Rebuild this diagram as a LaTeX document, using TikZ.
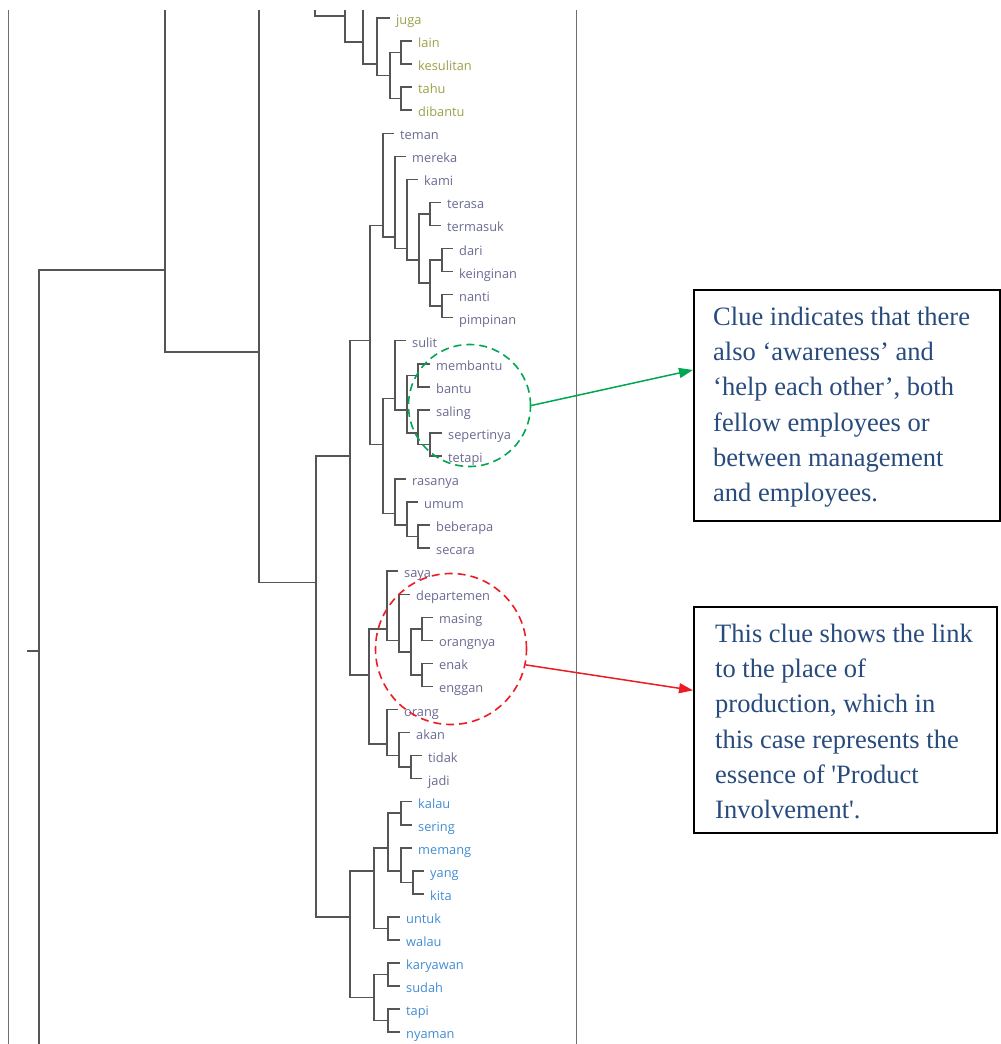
\documentclass[tikz,border=0pt]{standalone}
\usepackage{fontspec}
\setmainfont{Liberation Serif}
\newfontfamily\lblfont{Open Sans}
\usetikzlibrary{shapes.geometric,arrows.meta}
\definecolor{olivelbl}{RGB}{155,160,70}
\definecolor{greylbl}{RGB}{105,105,145}
\definecolor{bluelbl}{RGB}{65,140,210}
\definecolor{boxtext}{RGB}{40,75,125}
\definecolor{branch}{RGB}{85,85,85}
\definecolor{panelline}{RGB}{110,110,110}
\definecolor{clueGreen}{RGB}{0,166,81}
\definecolor{clueRed}{RGB}{235,28,36}
% vertical position of leaf row #1
\newcommand{\ry}[1]{18+23.05*#1}

\begin{document}
\begin{tikzpicture}[x=1pt,y=-1pt,
  br/.style={draw=branch, line width=1.5pt},
  panel/.style={draw=panelline, line width=1pt},
  lf/.style={anchor=west, inner xsep=6pt, inner ysep=0pt, text height=13pt,
    text depth=0pt, font=\lblfont\fontsize{12.8}{14}\selectfont},
  ol/.style={lf, text=olivelbl},
  gy/.style={lf, text=greylbl},
  bl/.style={lf, text=bluelbl},
  ring/.style={circle, draw, dash pattern=on 8pt off 5pt, line width=1.6pt, inner sep=0pt},
  notebox/.style={draw=black, line width=2pt, inner sep=0pt},
  notetext/.style={anchor=base west, text=boxtext, align=left, inner sep=0pt,
    font=\fontsize{26.5}{35.2}\selectfont},
  pointer/.style={-{Triangle[length=14pt,width=10pt]}, line width=1.5pt}
]
\useasboundingbox (0,0) rectangle (1001,1044);

% panel edges
\coordinate (pl1) at (8,10);   \coordinate (pl2) at (8,1044);
\coordinate (pr1) at (576,10); \coordinate (pr2) at (576,1044);
\draw[panel] (pl1) -- (pl2);
\draw[panel] (pr1) -- (pr2);

% ---------- leaves ----------
\node[ol] (juga)      at (390,{\ry{0}}) {juga};
\node[ol] (lain)      at (412,{\ry{1}}) {lain};
\node[ol] (kesulitan) at (412,{\ry{2}}) {kesulitan};
\node[ol] (tahu)      at (412,{\ry{3}}) {tahu};
\node[ol] (dibantu)   at (412,{\ry{4}}) {dibantu};

\node[gy] (teman)     at (394,{\ry{5}}) {teman};
\node[gy] (mereka)    at (406,{\ry{6}}) {mereka};
\node[gy] (kami)      at (418,{\ry{7}}) {kami};
\node[gy] (terasa)    at (441,{\ry{8}}) {terasa};
\node[gy] (termasuk)  at (441,{\ry{9}}) {termasuk};
\node[gy] (dari)      at (453,{\ry{10}}) {dari};
\node[gy] (keinginan) at (453,{\ry{11}}) {keinginan};
\node[gy] (nanti)     at (453,{\ry{12}}) {nanti};
\node[gy] (pimpinan)  at (453,{\ry{13}}) {pimpinan};
\node[gy] (sulit)     at (406,{\ry{14}}) {sulit};
\node[gy] (membantu)  at (430,{\ry{15}}) {membantu};
\node[gy] (bantu)     at (430,{\ry{16}}) {bantu};
\node[gy] (saling)    at (430,{\ry{17}}) {saling};
\node[gy] (sepertinya) at (442,{\ry{18}}) {sepertinya};
\node[gy] (tetapi)    at (442,{\ry{19}}) {tetapi};
\node[gy] (rasanya)   at (406,{\ry{20}}) {rasanya};
\node[gy] (umum)      at (418,{\ry{21}}) {umum};
\node[gy] (beberapa)  at (430,{\ry{22}}) {beberapa};
\node[gy] (secara)    at (430,{\ry{23}}) {secara};
\node[gy] (saya)      at (398,{\ry{24}}) {saya};
\node[gy] (departemen) at (410,{\ry{25}}) {departemen};
\node[gy] (masing)    at (433,{\ry{26}}) {masing};
\node[gy] (orangnya)  at (433,{\ry{27}}) {orangnya};
\node[gy] (enak)      at (433,{\ry{28}}) {enak};
\node[gy] (enggan)    at (433,{\ry{29}}) {enggan};
\node[gy] (orang)     at (398,{\ry{30}}) {orang};
\node[gy] (akan)      at (410,{\ry{31}}) {akan};
\node[gy] (tidak)     at (422,{\ry{32}}) {tidak};
\node[gy] (jadi)      at (422,{\ry{33}}) {jadi};

\node[bl] (kalau)     at (412,{\ry{34}}) {kalau};
\node[bl] (sering)    at (412,{\ry{35}}) {sering};
\node[bl] (memang)    at (412,{\ry{36}}) {memang};
\node[bl] (yang)      at (424,{\ry{37}}) {yang};
\node[bl] (kita)      at (424,{\ry{38}}) {kita};
\node[bl] (untuk)     at (400,{\ry{39}}) {untuk};
\node[bl] (walau)     at (400,{\ry{40}}) {walau};
\node[bl] (karyawan)  at (400,{\ry{41}}) {karyawan};
\node[bl] (sudah)     at (400,{\ry{42}}) {sudah};
\node[bl] (tapi)      at (400,{\ry{43}}) {tapi};
\node[bl] (nyaman)    at (400,{\ry{44}}) {nyaman};

% ---------- merge points ----------
\coordinate (lk)   at (401,{\ry{1.5}});
\coordinate (td)   at (401,{\ry{3.5}});
\coordinate (lktd) at (390,{\ry{2.5}});
\coordinate (jg)   at (377,{\ry{2}});
\coordinate (nA)   at (363,42);  \coordinate (nAtop) at (363,10);
\coordinate (nB)   at (345,16);  \coordinate (nBtop) at (345,10);
\coordinate (nCtop) at (315,10);

\coordinate (T)    at (383,{\ry{9}});
\coordinate (T2)   at (395,{\ry{9.5}});
\coordinate (T3)   at (407,{\ry{10}});
\coordinate (T4)   at (419,{\ry{10.5}});
\coordinate (tt)   at (430,{\ry{8.5}});
\coordinate (dknp) at (430,{\ry{11.5}});
\coordinate (dk)   at (442,{\ry{10.5}});
\coordinate (np)   at (442,{\ry{12.5}});

\coordinate (H)    at (383,{\ry{18.5}});
\coordinate (S)    at (395,{\ry{16.5}});
\coordinate (S2)   at (407,{\ry{17}});
\coordinate (mb)   at (418,{\ry{15.5}});
\coordinate (sal)  at (418,{\ry{18}});
\coordinate (st)   at (430,{\ry{18.5}});
\coordinate (R)    at (395,{\ry{21.5}});
\coordinate (R2)   at (407,{\ry{22}});
\coordinate (bs)   at (418,{\ry{22.5}});
\coordinate (G)    at (370,{\ry{14}});

\coordinate (K)    at (369,{\ry{28.5}});
\coordinate (sy)   at (387,{\ry{26.5}});
\coordinate (dp)   at (399,{\ry{27}});
\coordinate (me)   at (411,{\ry{27.5}});
\coordinate (mo)   at (422,{\ry{26.5}});
\coordinate (ee)   at (422,{\ry{28.5}});
\coordinate (orn)  at (387,{\ry{31.5}});
\coordinate (ak)   at (399,{\ry{32}});
\coordinate (tj)   at (411,{\ry{32.5}});
\coordinate (E)    at (350,{\ry{19}});

\coordinate (F)    at (350,{\ry{39}});
\coordinate (F1)   at (374,{\ry{37}});
\coordinate (F11)  at (388,{\ry{36}});
\coordinate (ks)   at (401,{\ry{34.5}});
\coordinate (my)   at (401,{\ry{37}});
\coordinate (yk)   at (413,{\ry{37.5}});
\coordinate (uw)   at (388,{\ry{39.5}});
\coordinate (F2)   at (374,{\ry{42.5}});
\coordinate (kas)  at (388,{\ry{41.5}});
\coordinate (tn)   at (388,{\ry{43.5}});

\coordinate (D)    at (316,{\ry{24.5}});
\coordinate (n259) at (259,352);  \coordinate (n259top) at (259,10);
\coordinate (n165) at (165,270);  \coordinate (n165top) at (165,10);
\coordinate (root) at (39,651);   \coordinate (rootbot) at (39,1044);
\coordinate (stub) at (27,651);

% ---------- branches ----------
\draw[br] (lk) |- (lain.west);   \draw[br] (lk) |- (kesulitan.west);
\draw[br] (td) |- (tahu.west);   \draw[br] (td) |- (dibantu.west);
\draw[br] (lktd) |- (lk);        \draw[br] (lktd) |- (td);
\draw[br] (jg) |- (juga.west);   \draw[br] (jg) |- (lktd);
\draw[br] (nA) -- (nAtop);       \draw[br] (nA) |- (jg);
\draw[br] (nB) -- (nBtop);       \draw[br] (nB) |- (nA);
\draw[br] (nCtop) |- (nB);

\draw[br] (T) |- (teman.west);   \draw[br] (T) |- (T2);
\draw[br] (T2) |- (mereka.west); \draw[br] (T2) |- (T3);
\draw[br] (T3) |- (kami.west);   \draw[br] (T3) |- (T4);
\draw[br] (T4) |- (tt);          \draw[br] (T4) |- (dknp);
\draw[br] (tt) |- (terasa.west); \draw[br] (tt) |- (termasuk.west);
\draw[br] (dknp) |- (dk);        \draw[br] (dknp) |- (np);
\draw[br] (dk) |- (dari.west);   \draw[br] (dk) |- (keinginan.west);
\draw[br] (np) |- (nanti.west);  \draw[br] (np) |- (pimpinan.west);

\draw[br] (H) |- (S);            \draw[br] (H) |- (R);
\draw[br] (S) |- (sulit.west);   \draw[br] (S) |- (S2);
\draw[br] (S2) |- (mb);          \draw[br] (S2) |- (sal);
\draw[br] (mb) |- (membantu.west); \draw[br] (mb) |- (bantu.west);
\draw[br] (sal) |- (saling.west);  \draw[br] (sal) |- (st);
\draw[br] (st) |- (sepertinya.west); \draw[br] (st) |- (tetapi.west);
\draw[br] (R) |- (rasanya.west); \draw[br] (R) |- (R2);
\draw[br] (R2) |- (umum.west);   \draw[br] (R2) |- (bs);
\draw[br] (bs) |- (beberapa.west); \draw[br] (bs) |- (secara.west);
\draw[br] (G) |- (T);            \draw[br] (G) |- (H);

\draw[br] (K) |- (sy);           \draw[br] (K) |- (orn);
\draw[br] (sy) |- (saya.west);   \draw[br] (sy) |- (dp);
\draw[br] (dp) |- (departemen.west); \draw[br] (dp) |- (me);
\draw[br] (me) |- (mo);          \draw[br] (me) |- (ee);
\draw[br] (mo) |- (masing.west); \draw[br] (mo) |- (orangnya.west);
\draw[br] (ee) |- (enak.west);   \draw[br] (ee) |- (enggan.west);
\draw[br] (orn) |- (orang.west); \draw[br] (orn) |- (ak);
\draw[br] (ak) |- (akan.west);   \draw[br] (ak) |- (tj);
\draw[br] (tj) |- (tidak.west);  \draw[br] (tj) |- (jadi.west);
\draw[br] (E) |- (G);            \draw[br] (E) |- (K);

\draw[br] (F) |- (F1);           \draw[br] (F) |- (F2);
\draw[br] (F1) |- (F11);         \draw[br] (F1) |- (uw);
\draw[br] (F11) |- (ks);         \draw[br] (F11) |- (my);
\draw[br] (ks) |- (kalau.west);  \draw[br] (ks) |- (sering.west);
\draw[br] (my) |- (memang.west); \draw[br] (my) |- (yk);
\draw[br] (yk) |- (yang.west);   \draw[br] (yk) |- (kita.west);
\draw[br] (uw) |- (untuk.west);  \draw[br] (uw) |- (walau.west);
\draw[br] (F2) |- (kas);         \draw[br] (F2) |- (tn);
\draw[br] (kas) |- (karyawan.west); \draw[br] (kas) |- (sudah.west);
\draw[br] (tn) |- (tapi.west);   \draw[br] (tn) |- (nyaman.west);

\draw[br] (D) |- (E);            \draw[br] (D) |- (F);
\draw[br] (n259) -- (n259top);   \draw[br] (n259) |- (D);
\draw[br] (n165) -- (n165top);   \draw[br] (n165) |- (n259);
\draw[br] (root) |- (n165);      \draw[br] (root) -- (rootbot);
\draw[br] (stub) -- (root);

% ---------- highlighted clusters ----------
\node[ring, draw=clueGreen, minimum size=122pt] (gring) at (469.5,405.5) {};
\node[ring, draw=clueRed, minimum size=151pt] (rring) at (451,649) {};

% ---------- notes ----------
\node[notebox, minimum width=306pt, minimum height=231pt] (box1) at (847,405.5) {};
\node[notebox, minimum width=303pt, minimum height=226pt] (box2) at (845.5,720) {};

% base anchor of a multi-line node sits on its last line
\node[notetext] (note1) at (713,501.5) {Clue indicates that there\\also ‘awareness’ and\\‘help each other’, both\\fellow employees or\\between management\\and employees.};
\node[notetext] (note2) at (715,818.5) {This clue shows the link\\to the place of\\production, which in\\this case represents the\\essence of \textquotesingle Product\\Involvement\textquotesingle.};

\draw[pointer, clueGreen] (gring.east) -- (box1.167.5);
\draw[pointer, clueRed] (rring.-12) -- (box2.169.7);
\end{tikzpicture}
\end{document}
